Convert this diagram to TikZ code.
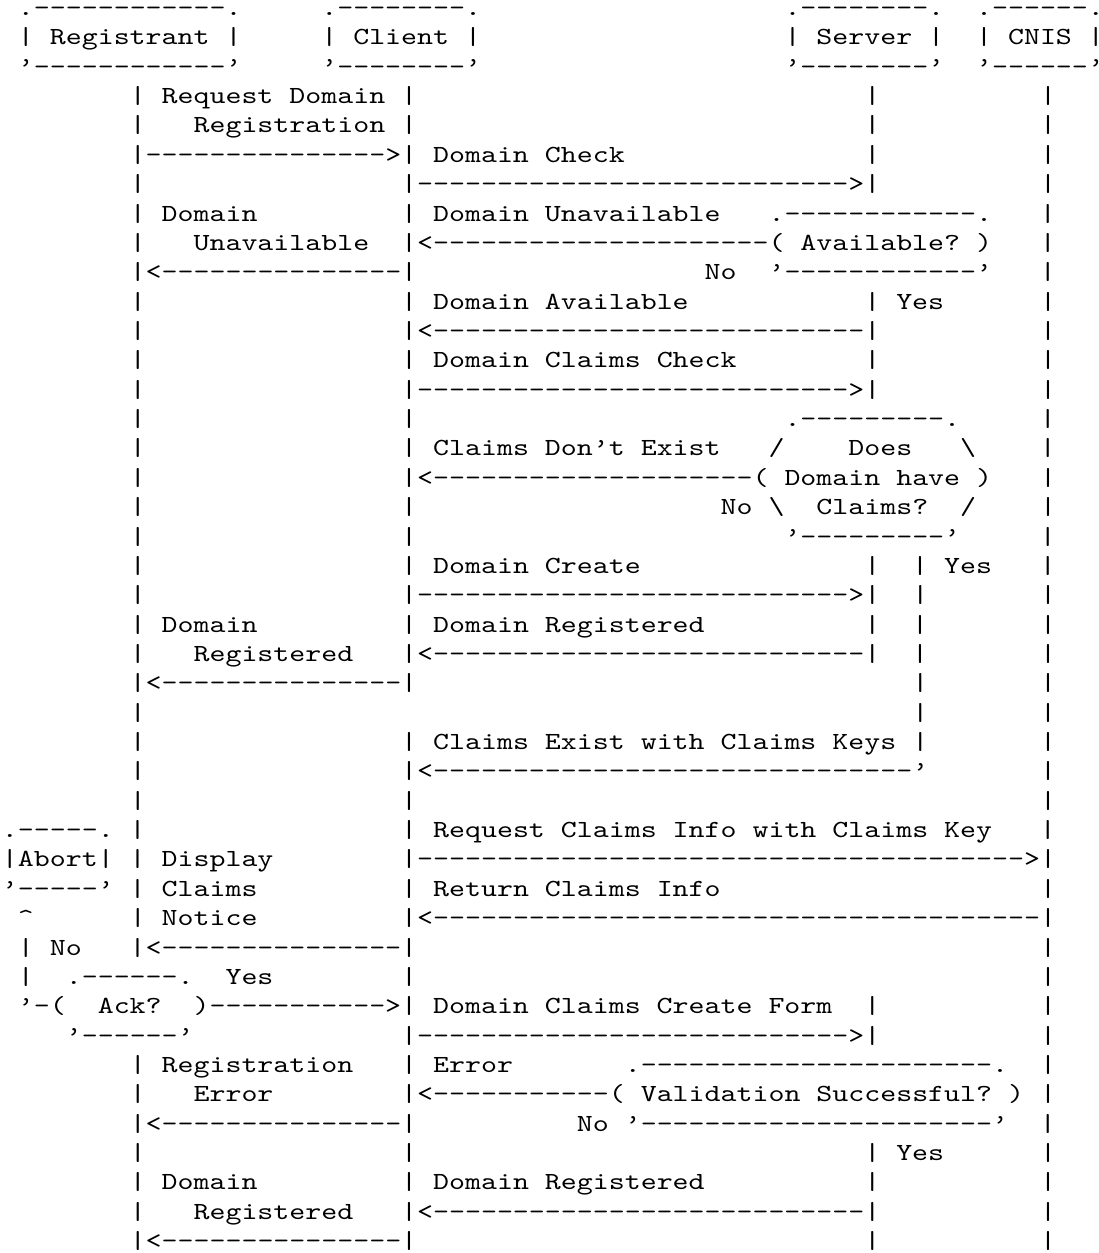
\documentclass[tikz,border=0pt]{standalone}
\usepackage{fontspec}
\newfontfamily\asciimono{lmmono10-regular.otf}[FakeStretch=1.2366]
\newlength\cw
\settowidth\cw{\fontsize{12.3pt}{14pt}\asciimono x}
\newcommand\gap[1]{\hspace*{#1\cw}}
\ExplSyntaxOn
\newcommand\dashrun[1]{\prg_replicate:nn{#1}{-}}
\ExplSyntaxOff
\newcommand\rowfont{\fontsize{12.3pt}{14pt}\asciimono\frenchspacing\spaceskip=\cw\relax\xspaceskip=\cw\relax}
\tikzset{asciirow/.style={anchor=base west, inner sep=0pt, font=\rowfont}}

\begin{document}
\begin{tikzpicture}[x=7.985pt, y=-14.68pt]
    \useasboundingbox (0,0) rectangle (68.82,42.68);
    % actors
    \node[asciirow] (r00) at (0.1,0.53)  {\gap{1}.\dashrun{12}.\gap{5}.\dashrun{8}.\gap{19}.\dashrun{8}.\gap{2}.\dashrun{6}.};
    \node[asciirow] (r01) at (0.1,1.53)  {\gap{1}| Registrant |\gap{5}| Client |\gap{19}| Server |\gap{2}| CNIS |};
    \node[asciirow] (r02) at (0.1,2.53)  {\gap{1}’\dashrun{12}’\gap{5}’\dashrun{8}’\gap{19}’\dashrun{8}’\gap{2}’\dashrun{6}’};
    % availability check
    \node[asciirow] (r03) at (0.1,3.53)  {\gap{8}| Request Domain |\gap{28}|\gap{10}|};
    \node[asciirow] (r04) at (0.1,4.53)  {\gap{8}|\gap{3}Registration |\gap{28}|\gap{10}|};
    \node[asciirow] (r05) at (0.1,5.53)  {\gap{8}|\dashrun{15}>| Domain Check\gap{15}|\gap{10}|};
    \node[asciirow] (r06) at (0.1,6.53)  {\gap{8}|\gap{16}|\dashrun{27}>|\gap{10}|};
    \node[asciirow] (r07) at (0.1,7.53)  {\gap{8}| Domain\gap{9}| Domain Unavailable\gap{3}.\dashrun{12}.\gap{3}|};
    \node[asciirow] (r08) at (0.1,8.53)  {\gap{8}|\gap{3}Unavailable\gap{2}|<\dashrun{21}( Available? )\gap{3}|};
    \node[asciirow] (r09) at (0.1,9.53)  {\gap{8}|<\dashrun{15}|\gap{18}No\gap{2}’\dashrun{12}’\gap{3}|};
    \node[asciirow] (r10) at (0.1,10.53) {\gap{8}|\gap{16}| Domain Available\gap{11}| Yes\gap{6}|};
    \node[asciirow] (r11) at (0.1,11.53) {\gap{8}|\gap{16}|<\dashrun{27}|\gap{10}|};
    % claims check
    \node[asciirow] (r12) at (0.1,12.53) {\gap{8}|\gap{16}| Domain Claims Check\gap{8}|\gap{10}|};
    \node[asciirow] (r13) at (0.1,13.53) {\gap{8}|\gap{16}|\dashrun{27}>|\gap{10}|};
    \node[asciirow] (r14) at (0.1,14.53) {\gap{8}|\gap{16}|\gap{23}.\dashrun{9}.\gap{5}|};
    \node[asciirow] (r15) at (0.1,15.53) {\gap{8}|\gap{16}| Claims Don’t Exist\gap{3}/\gap{4}Does\gap{3}\textbackslash\gap{4}|};
    \node[asciirow] (r16) at (0.1,16.53) {\gap{8}|\gap{16}|<\dashrun{20}( Domain have )\gap{3}|};
    \node[asciirow] (r17) at (0.1,17.53) {\gap{8}|\gap{16}|\gap{19}No \textbackslash\gap{2}Claims?\gap{2}/\gap{4}|};
    \node[asciirow] (r18) at (0.1,18.53) {\gap{8}|\gap{16}|\gap{23}’\dashrun{9}’\gap{5}|};
    \node[asciirow] (r19) at (0.1,19.53) {\gap{8}|\gap{16}| Domain Create\gap{14}|\gap{2}| Yes\gap{3}|};
    \node[asciirow] (r20) at (0.1,20.53) {\gap{8}|\gap{16}|\dashrun{27}>|\gap{2}|\gap{7}|};
    \node[asciirow] (r21) at (0.1,21.53) {\gap{8}| Domain\gap{9}| Domain Registered\gap{10}|\gap{2}|\gap{7}|};
    \node[asciirow] (r22) at (0.1,22.53) {\gap{8}|\gap{3}Registered\gap{3}|<\dashrun{27}|\gap{2}|\gap{7}|};
    \node[asciirow] (r23) at (0.1,23.53) {\gap{8}|<\dashrun{15}|\gap{31}|\gap{7}|};
    \node[asciirow] (r24) at (0.1,24.53) {\gap{8}|\gap{48}|\gap{7}|};
    \node[asciirow] (r25) at (0.1,25.53) {\gap{8}|\gap{16}| Claims Exist with Claims Keys |\gap{7}|};
    \node[asciirow] (r26) at (0.1,26.53) {\gap{8}|\gap{16}|<\dashrun{30}’\gap{7}|};
    % claims notice
    \node[asciirow] (r27) at (0.1,27.53) {\gap{8}|\gap{16}|\gap{39}|};
    \node[asciirow] (r28) at (0.1,28.53) {.\dashrun{5}. |\gap{16}| Request Claims Info with Claims Key\gap{3}|};
    \node[asciirow] (r29) at (0.1,29.53) {|Abort| | Display\gap{8}|\dashrun{38}>|};
    \node[asciirow] (r30) at (0.1,30.53) {’\dashrun{5}’ | Claims\gap{9}| Return Claims Info\gap{20}|};
    \node[asciirow] (r31) at (0.1,31.53) {\gap{1}\textasciicircum\gap{6}| Notice\gap{9}|<\dashrun{38}|};
    \node[asciirow] (r32) at (0.1,32.53) {\gap{1}| No\gap{3}|<\dashrun{15}|\gap{39}|};
    \node[asciirow] (r33) at (0.1,33.53) {\gap{1}|\gap{2}.\dashrun{6}.\gap{2}Yes\gap{8}|\gap{39}|};
    \node[asciirow] (r34) at (0.1,34.53) {\gap{1}’-(\gap{2}Ack?\gap{2})\dashrun{11}>| Domain Claims Create Form\gap{2}|\gap{10}|};
    \node[asciirow] (r35) at (0.1,35.53) {\gap{4}’\dashrun{6}’\gap{13}|\dashrun{27}>|\gap{10}|};
    % validation
    \node[asciirow] (r36) at (0.1,36.53) {\gap{8}| Registration\gap{3}| Error\gap{7}.\dashrun{22}.\gap{2}|};
    \node[asciirow] (r37) at (0.1,37.53) {\gap{8}|\gap{3}Error\gap{8}|<\dashrun{11}( Validation Successful? ) |};
    \node[asciirow] (r38) at (0.1,38.53) {\gap{8}|<\dashrun{15}|\gap{10}No ’\dashrun{22}’\gap{2}|};
    \node[asciirow] (r39) at (0.1,39.53) {\gap{8}|\gap{16}|\gap{28}| Yes\gap{6}|};
    \node[asciirow] (r40) at (0.1,40.53) {\gap{8}| Domain\gap{9}| Domain Registered\gap{10}|\gap{10}|};
    \node[asciirow] (r41) at (0.1,41.53) {\gap{8}|\gap{3}Registered\gap{3}|<\dashrun{27}|\gap{10}|};
    \node[asciirow] (r42) at (0.1,42.53) {\gap{8}|<\dashrun{15}|\gap{28}|\gap{10}|};
\end{tikzpicture}
\end{document}
